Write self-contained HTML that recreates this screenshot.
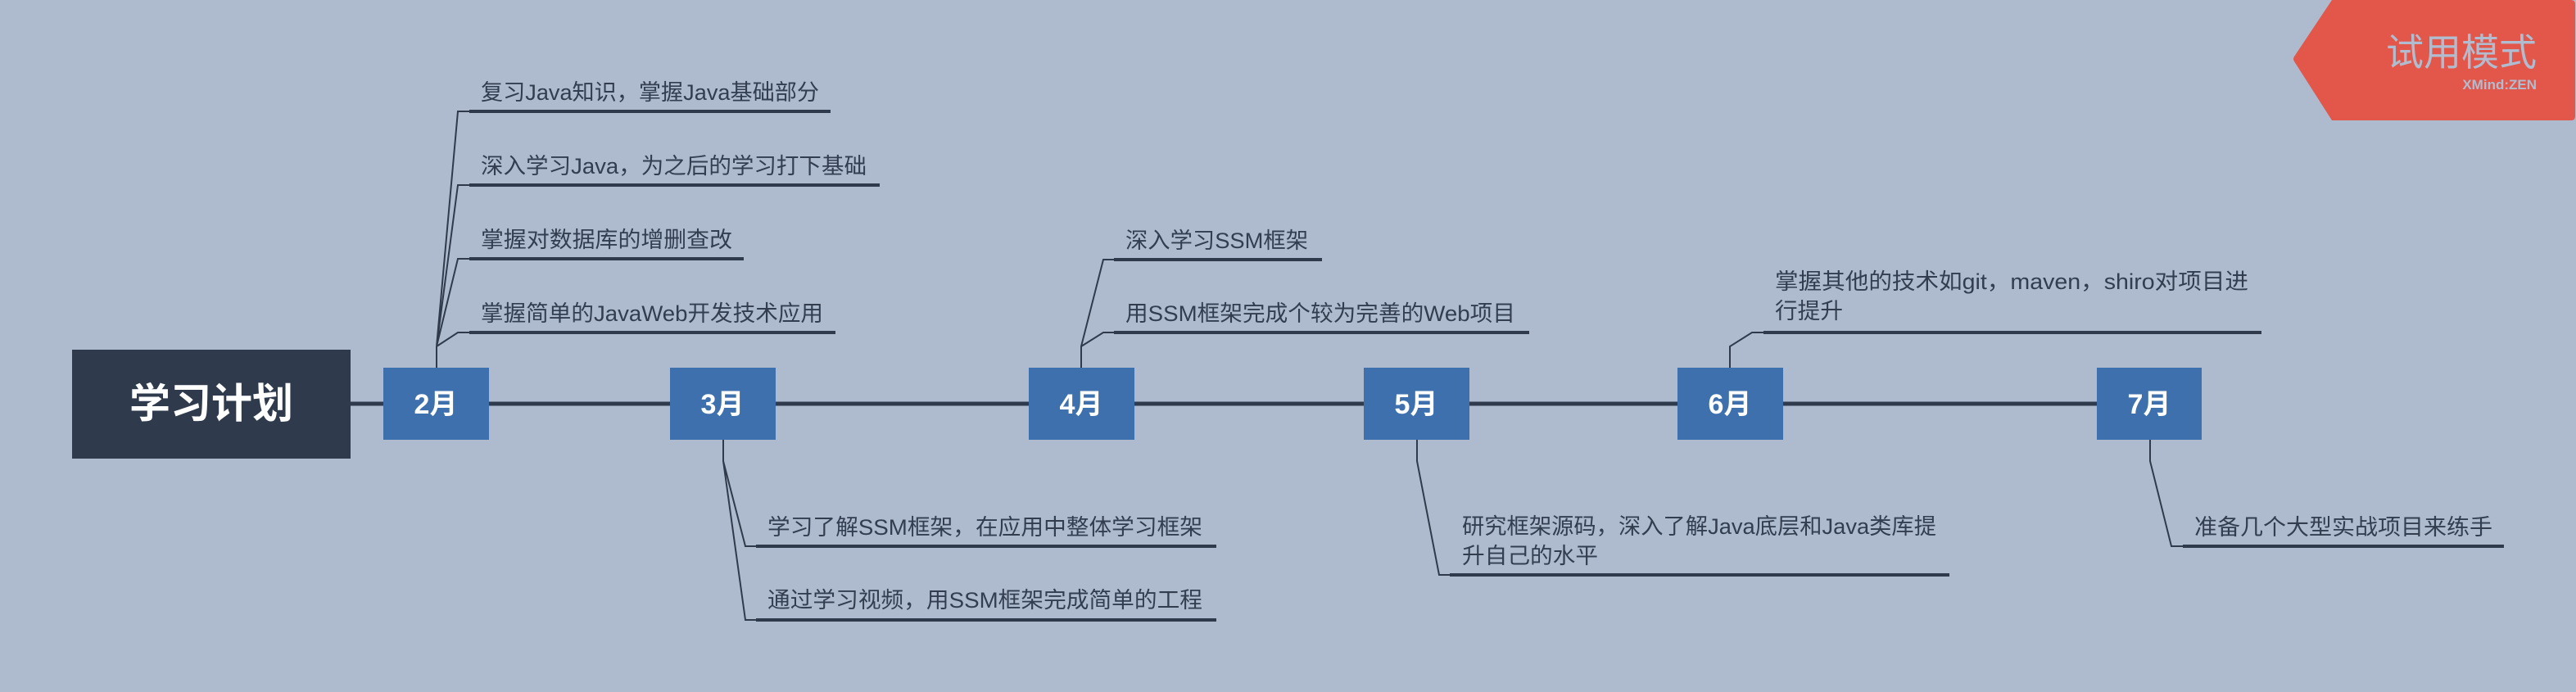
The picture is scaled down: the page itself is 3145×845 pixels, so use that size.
<!DOCTYPE html>
<html><head><meta charset="utf-8"><style>
html,body{margin:0;padding:0;background:#aebbcf;}
svg{display:block;}
.t{font-family:"Liberation Sans","Noto Sans CJK SC",sans-serif;font-size:27px;fill:#323e50;}
.m{font-family:"Liberation Sans","Noto Sans CJK SC",sans-serif;font-size:34px;font-weight:bold;fill:#fff;}
</style></head><body>
<svg width="3145" height="845" viewBox="0 0 3145 845" xmlns="http://www.w3.org/2000/svg">
<rect width="3145" height="845" fill="#aebbcf"/>
<!-- main line -->
<line x1="428" y1="493" x2="2560" y2="493" stroke="#2f3b4c" stroke-width="5"/>
<g fill="none" stroke="#2f3b4c" stroke-width="2">
<!-- 2月 -->
<path d="M533 449 V423 L559 136 H573 M533 423 L559 226 H573 M533 423 L559 316 H573 M533 423 L559 406 H573"/>
<!-- 3月 -->
<path d="M883 537 V563 L910 667 H923 M883 563 L910 757 H923"/>
<!-- 4月 -->
<path d="M1320 449 V423 L1347 317 H1360 M1320 423 L1347 406 H1360"/>
<!-- 5月 -->
<path d="M1730 537 V563 L1757 702 H1770"/>
<!-- 6月 -->
<path d="M2112 449 V423 L2139 406 H2153"/>
<!-- 7月 -->
<path d="M2625 537 V563 L2651 667 H2665"/>
</g>
<g stroke="#2f3b4c" stroke-width="4">
<line x1="573" y1="136" x2="1014" y2="136"/>
<line x1="573" y1="226" x2="1074" y2="226"/>
<line x1="573" y1="316" x2="908" y2="316"/>
<line x1="573" y1="406" x2="1020" y2="406"/>
<line x1="923" y1="667" x2="1485" y2="667"/>
<line x1="923" y1="757" x2="1485" y2="757"/>
<line x1="1360" y1="317" x2="1614" y2="317"/>
<line x1="1360" y1="406" x2="1867" y2="406"/>
<line x1="1770" y1="702" x2="2380" y2="702"/>
<line x1="2153" y1="406" x2="2761" y2="406"/>
<line x1="2665" y1="667" x2="3057" y2="667"/>
</g>
<!-- central -->
<rect x="88" y="427" width="340" height="133" fill="#2f3b4c"/>
<text x="258" y="510" text-anchor="middle" font-family="'Liberation Sans','Noto Sans CJK SC',sans-serif" font-size="50" font-weight="bold" fill="#fff">学习计划</text>
<!-- months -->
<g fill="#3f70ae">
<rect x="468" y="449" width="129" height="88"/>
<rect x="818" y="449" width="129" height="88"/>
<rect x="1256" y="449" width="129" height="88"/>
<rect x="1665" y="449" width="129" height="88"/>
<rect x="2048" y="449" width="129" height="88"/>
<rect x="2560" y="449" width="128" height="88"/>
</g>
<text class="m" x="532" y="505" text-anchor="middle">2月</text>
<text class="m" x="882" y="505" text-anchor="middle">3月</text>
<text class="m" x="1320" y="505" text-anchor="middle">4月</text>
<text class="m" x="1729" y="505" text-anchor="middle">5月</text>
<text class="m" x="2112" y="505" text-anchor="middle">6月</text>
<text class="m" x="2624" y="505" text-anchor="middle">7月</text>
<!-- texts -->
<text class="t" x="587" y="122" textLength="413" lengthAdjust="spacingAndGlyphs">复习Java知识，掌握Java基础部分</text>
<text class="t" x="587" y="212" textLength="471" lengthAdjust="spacingAndGlyphs">深入学习Java，为之后的学习打下基础</text>
<text class="t" x="587" y="302" textLength="307" lengthAdjust="spacingAndGlyphs">掌握对数据库的增删查改</text>
<text class="t" x="587" y="392" textLength="418" lengthAdjust="spacingAndGlyphs">掌握简单的JavaWeb开发技术应用</text>
<text class="t" x="937" y="653" textLength="531" lengthAdjust="spacingAndGlyphs">学习了解SSM框架，在应用中整体学习框架</text>
<text class="t" x="937" y="742" textLength="531" lengthAdjust="spacingAndGlyphs">通过学习视频，用SSM框架完成简单的工程</text>
<text class="t" x="1374" y="303" textLength="223" lengthAdjust="spacingAndGlyphs">深入学习SSM框架</text>
<text class="t" x="1374" y="392" textLength="476" lengthAdjust="spacingAndGlyphs">用SSM框架完成个较为完善的Web项目</text>
<text class="t" x="1785" y="652" textLength="579" lengthAdjust="spacingAndGlyphs">研究框架源码，深入了解Java底层和Java类库提</text>
<text class="t" x="1785" y="688" textLength="166" lengthAdjust="spacingAndGlyphs">升自己的水平</text>
<text class="t" x="2167" y="353" textLength="578" lengthAdjust="spacingAndGlyphs">掌握其他的技术如git，maven，shiro对项目进</text>
<text class="t" x="2167" y="389" textLength="83" lengthAdjust="spacingAndGlyphs">行提升</text>
<text class="t" x="2679" y="653" textLength="364" lengthAdjust="spacingAndGlyphs">准备几个大型实战项目来练手</text>
<!-- watermark -->
<path d="M2847 0 H3139 Q3144 0 3144 5 V142 Q3144 147 3139 147 H2847 L2801 75 Q2799 72 2801 69 Z" fill="#e3574a"/>
<text x="3097" y="80" text-anchor="end" font-family="'Liberation Sans','Noto Sans CJK SC',sans-serif" font-size="46" fill="#b0bccf">试用模式</text>
<text x="3097" y="109" text-anchor="end" font-family="'Liberation Sans',sans-serif" font-size="17" font-weight="bold" fill="#b0bccf">XMind:ZEN</text>
</svg>
</body></html>
